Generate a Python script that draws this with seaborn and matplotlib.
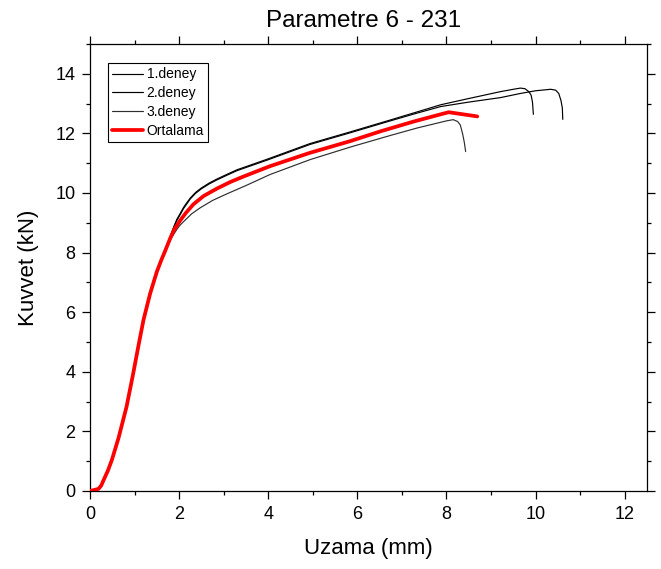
import matplotlib
matplotlib.use("Agg")
import matplotlib.pyplot as plt
import seaborn as sns
from matplotlib.ticker import MultipleLocator

sns.set_theme(style="ticks")
plt.rcParams['font.family'] = ['Liberation Sans', 'DejaVu Sans']
plt.rcParams['text.color'] = 'black'
plt.rcParams['axes.labelcolor'] = 'black'

# Shared loading branch (all three tests overlap here), Uzama in mm, Kuvvet in kN
base_x = [0.00, 0.08, 0.19, 0.25, 0.30, 0.40, 0.49, 0.64, 0.82, 0.97, 1.09, 1.20, 1.35, 1.50, 1.60, 1.69]
base_y = [0.00, 0.03, 0.07, 0.18, 0.35, 0.68, 1.04, 1.78, 2.83, 3.95, 4.90, 5.74, 6.63, 7.36, 7.75, 8.07]

# 1.deney
t1_x = [1.80, 1.88, 1.95, 2.03, 2.10, 2.18, 2.25, 2.37, 2.50, 2.67, 2.85, 3.05, 3.30, 3.97, 4.50,
        4.94, 5.84, 6.74, 7.34, 7.87, 8.50, 9.21, 9.50, 9.66, 9.76, 9.85, 9.90, 9.93, 9.95]
t1_y = [8.55, 8.87, 9.12, 9.33, 9.52, 9.69, 9.83, 10.02, 10.17, 10.33, 10.47, 10.61, 10.78, 11.13, 11.42,
        11.66, 12.05, 12.45, 12.72, 12.96, 13.17, 13.40, 13.48, 13.52, 13.50, 13.40, 13.28, 13.05, 12.64]

# 2.deney
t2_x = [1.80, 1.88, 1.95, 2.03, 2.10, 2.18, 2.25, 2.37, 2.50, 2.67, 2.85, 3.05, 3.30, 3.97, 4.50,
        4.94, 5.84, 6.74, 7.34, 7.87, 8.50, 9.21, 9.66, 10.00, 10.34, 10.45, 10.52, 10.57, 10.60, 10.61]
t2_y = [8.52, 8.84, 9.08, 9.29, 9.48, 9.65, 9.80, 9.99, 10.14, 10.30, 10.44, 10.58, 10.75, 11.10, 11.39,
        11.63, 12.02, 12.42, 12.68, 12.90, 13.05, 13.20, 13.34, 13.43, 13.48, 13.45, 13.34, 13.10, 12.85, 12.47]

# 3.deney
t3_x = [1.80, 1.88, 1.95, 2.02, 2.10, 2.28, 2.47, 2.75, 3.07, 3.50, 4.04, 4.94, 5.84, 6.74, 7.34,
        8.00, 8.15, 8.25, 8.31, 8.36, 8.40, 8.43]
t3_y = [8.42, 8.62, 8.78, 8.92, 9.04, 9.30, 9.50, 9.75, 9.97, 10.25, 10.62, 11.12, 11.54, 11.93, 12.18,
        12.42, 12.46, 12.40, 12.28, 12.00, 11.70, 11.39]

# Ortalama
avg_x = [1.80, 1.90, 2.02, 2.15, 2.32, 2.55, 2.85, 3.15, 3.44, 4.04, 4.94, 5.84, 6.52, 7.27, 7.87, 8.05, 8.69]
avg_y = [8.48, 8.80, 9.07, 9.33, 9.62, 9.90, 10.15, 10.37, 10.55, 10.90, 11.35, 11.74, 12.07, 12.40, 12.64, 12.71, 12.57]

series = [
    ("1.deney", base_x + t1_x, base_y + t1_y, "black", 0.85),
    ("2.deney", base_x + t2_x, base_y + t2_y, "black", 0.85),
    ("3.deney", base_x + t3_x, base_y + t3_y, "#2e2e2e", 0.85),
    ("Ortalama", base_x + avg_x, base_y + avg_y, "#ff0000", 2.7),
]

fig = plt.figure(figsize=(6.61, 5.69), dpi=100)
ax = fig.add_axes([0.1362, 0.1371, 0.8426, 0.7856])

for i, (name, xs, ys, col, lw) in enumerate(series):
    sns.lineplot(x=xs, y=ys, ax=ax, color=col, linewidth=lw, label=name,
                 estimator=None, sort=False, zorder=2 + i)

ax.set_xlim(0, 12.5)
ax.set_ylim(0, 15)
ax.xaxis.set_major_locator(MultipleLocator(2))
ax.xaxis.set_minor_locator(MultipleLocator(1))
ax.yaxis.set_major_locator(MultipleLocator(2))
ax.yaxis.set_minor_locator(MultipleLocator(1))

for side in ["top", "right", "bottom", "left"]:
    ax.spines[side].set_visible(True)
    ax.spines[side].set_color("black")
    ax.spines[side].set_linewidth(0.9)

ax.tick_params(which="both", direction="out", top=True, right=True,
               labeltop=False, labelright=False, colors="black", width=0.9)
ax.tick_params(which="major", length=5.5, pad=5, labelsize=13)
ax.tick_params(which="minor", length=3)

ax.set_title("Parametre 6 - 231", fontsize=17.5, pad=12, color="black", x=0.492)
ax.set_xlabel("Uzama (mm)", fontsize=16, labelpad=11)
ax.set_ylabel("Kuvvet (kN)", fontsize=16, labelpad=12)

leg = ax.legend(loc="upper left", bbox_to_anchor=(0.032, 0.957), borderaxespad=0,
                fontsize=10, frameon=True, fancybox=False, framealpha=1,
                edgecolor="black", borderpad=0.3, handlelength=2.2,
                handletextpad=0.3, labelspacing=0.35)
leg.get_frame().set_linewidth(0.8)

fig.savefig("out.png", dpi=100, facecolor="white")
